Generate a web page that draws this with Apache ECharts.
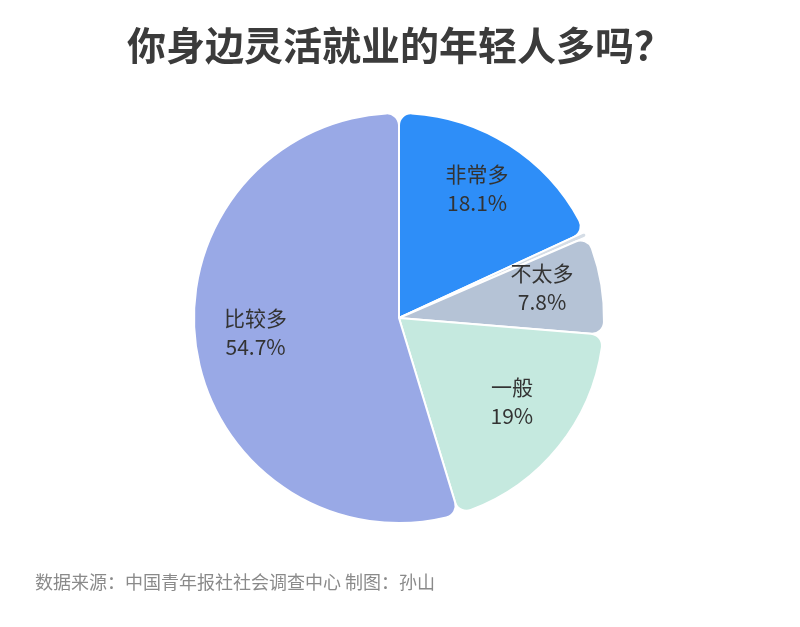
<!DOCTYPE html>
<html>
<head>
<meta charset="utf-8">
<script src="https://cdn.jsdelivr.net/npm/echarts@6/dist/echarts.min.js"></script>
<style>html,body{margin:0;padding:0;background:#fff;}#c{width:800px;height:627px;}</style>
</head>
<body>
<div id="c"></div>
<script>
var categories = ['非常多', '其他', '不太多', '一般', '比较多'];
var values = [18.1, 0.4, 7.8, 19, 54.7];
var colors = ['#2e8ef8', '#d5dde6', '#b5c3d6', '#c5e9df', '#99a9e6'];
var showLabel = [true, false, true, true, true];

var chart = echarts.init(document.getElementById('c'));
var pieData = categories.map(function (n, i) {
  return { name: n, value: values[i], itemStyle: { color: colors[i] } };
});
var labelData = categories.map(function (n, i) {
  return { name: n, value: values[i], label: { show: showLabel[i] } };
});
chart.setOption({
  backgroundColor: '#fff',
  title: [{
    text: '你身边灵活就业的年轻人多吗？',
    left: 'center',
    top: 21,
    textStyle: { fontSize: 39, fontWeight: 'bold', color: '#3b3b3b', fontFamily: 'Noto Sans CJK SC' }
  }, {
    text: '数据来源：中国青年报社社会调查中心 制图：孙山',
    left: 30,
    top: 568,
    textStyle: { fontSize: 18, fontWeight: 'normal', color: '#8a8a8a', fontFamily: 'Noto Sans CJK SC' }
  }],
  series: [{
    type: 'pie',
    center: [399, 318],
    radius: [0, 205],
    startAngle: 90,
    clockwise: true,
    silent: true,
    itemStyle: { borderColor: '#fff', borderWidth: 2, borderRadius: 12 },
    label: { show: false },
    labelLine: { show: false },
    data: pieData
  }, {
    type: 'pie',
    center: [399, 318],
    radius: [84, 200],
    startAngle: 90,
    clockwise: true,
    silent: true,
    itemStyle: { color: 'transparent' },
    label: {
      position: 'inside',
      formatter: '{b}\n{c}%',
      fontSize: 21,
      lineHeight: 29,
      offset: [0, -7],
      color: '#333',
      fontFamily: 'Noto Sans CJK SC'
    },
    labelLine: { show: false },
    data: labelData
  }]
});
</script>
</body>
</html>
